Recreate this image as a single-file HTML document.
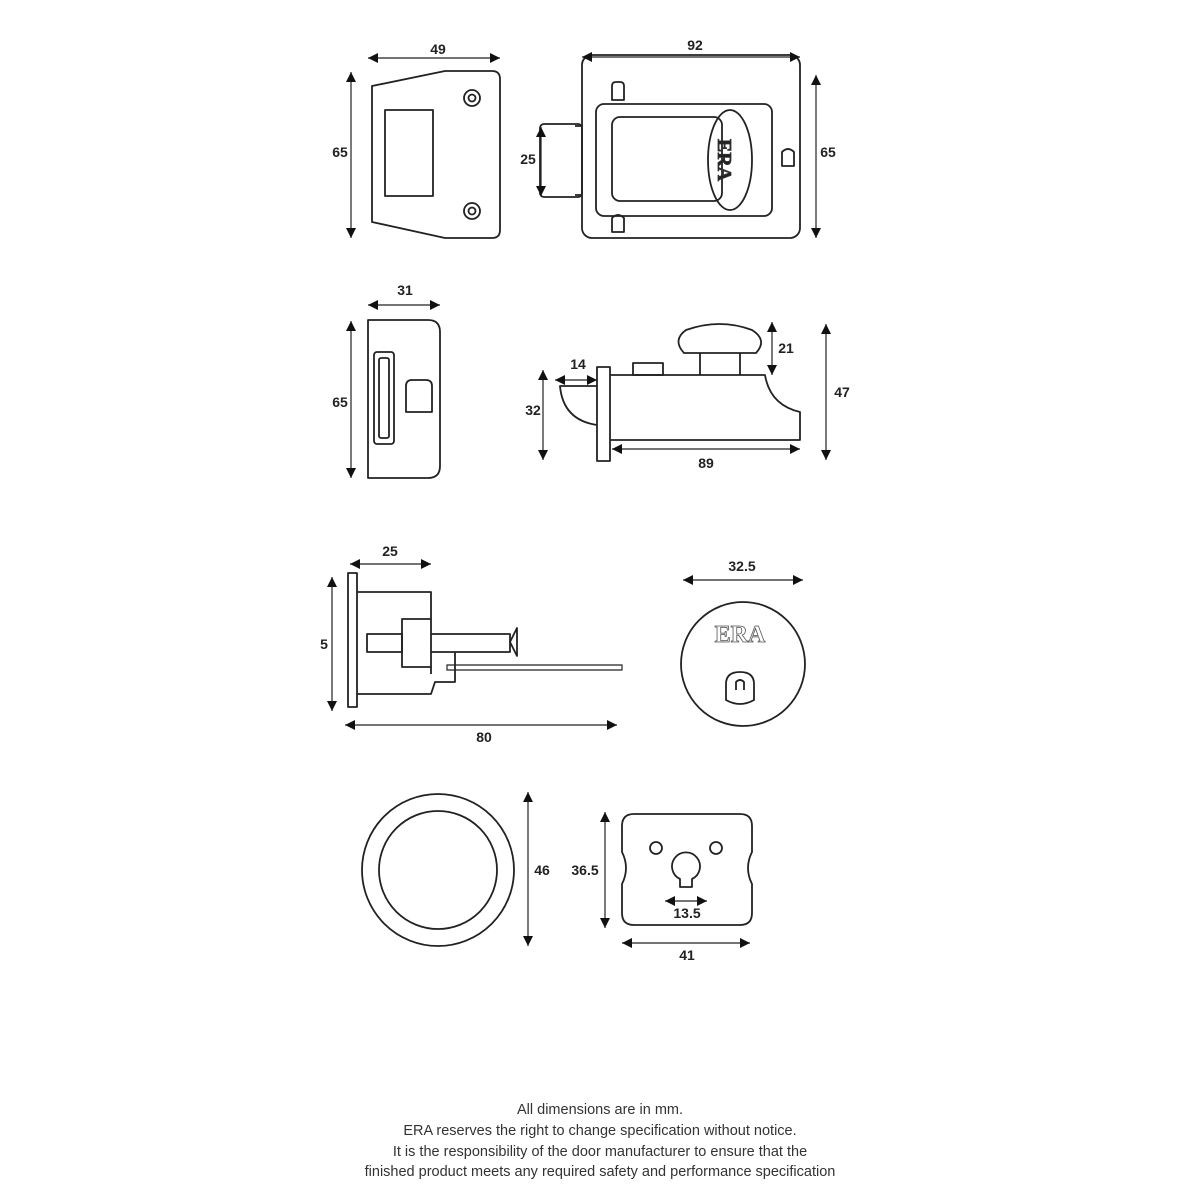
<!DOCTYPE html>
<html><head><meta charset="utf-8"><style>
html,body{margin:0;padding:0;background:#fff;}
svg{display:block}
text{font-family:"Liberation Sans",sans-serif;font-weight:bold;font-size:14px;fill:#222;text-anchor:middle}
.f{font-weight:normal;font-size:14.5px;fill:#333}
</style></head><body>
<svg width="1200" height="1200" viewBox="0 0 1200 1200" xmlns="http://www.w3.org/2000/svg">
<defs>
<marker id="a" viewBox="0 0 10 10" refX="10" refY="5" markerWidth="10" markerHeight="10" markerUnits="userSpaceOnUse" orient="auto-start-reverse"><path d="M0,0L10,5L0,10z" fill="#111"/></marker>
</defs>
<g fill="none" stroke="#222" stroke-width="1.8" stroke-linejoin="round">
<!-- staple front -->
<path d="M372,86 L445,71 L492,71 Q500,71 500,79 L500,230 Q500,238 492,238 L445,238 L372,222 Z"/>
<rect x="385" y="110" width="48" height="86"/>
<circle cx="472" cy="98" r="8"/><circle cx="472" cy="98" r="3.5"/>
<circle cx="472" cy="211" r="8"/><circle cx="472" cy="211" r="3.5"/>
<!-- lock case front -->
<rect x="582" y="55" width="218" height="183" rx="10"/>
<rect x="540" y="124" width="42" height="73" rx="4"/>
<path d="M582,126 L575,126 M582,195 L575,195"/>
<rect x="596" y="104" width="176" height="112" rx="8"/>
<rect x="612" y="117" width="110" height="84" rx="8"/>
<path d="M612,100 L612,86 Q612,82 616,82 L620,82 Q624,82 624,86 L624,100 Z"/>
<path d="M612,218 L612,232 L624,232 L624,218 Q618,212 612,218 Z"/>
<path d="M782,166 L782,152 Q788,146 794,152 L794,166 Z"/>
<ellipse cx="730" cy="160" rx="22" ry="50"/>
<!-- staple side -->
<path d="M368,320 L428,320 Q440,320 440,332 L440,466 Q440,478 428,478 L368,478 Z"/>
<rect x="374" y="352" width="20" height="92" rx="3"/>
<rect x="379" y="358" width="10" height="80" rx="2"/>
<path d="M406,412 L406,386 Q406,380 412,380 L426,380 Q432,380 432,386 L432,412 Z"/>
<!-- side profile -->
<rect x="597" y="367" width="13" height="94"/>
<path d="M610,375 L765,375 Q770,405 800,412 L800,440 L610,440"/>
<path d="M597,386 L560,386 Q563,420 597,425"/>
<rect x="633" y="363" width="30" height="12"/>
<path d="M700,375 L700,353 M740,375 L740,353"/>
<path d="M684,353 Q672,340 686,330 Q720,318 752,330 Q768,340 756,353 Z"/>
<!-- cylinder side -->
<rect x="348" y="573" width="9" height="134"/>
<path d="M357,592 L431,592 L431,619 M431,667 L431,674 M357,694 L431,694 L435,682 L455,682 L455,652"/>
<rect x="402" y="619" width="29" height="48"/>
<rect x="367" y="634" width="35" height="18"/>
<path d="M431,634 L510,634 L510,652 L431,652"/>
<path d="M510,642 L517,628 L517,656 Z"/>
<rect x="447" y="665" width="175" height="5" stroke-width="1.2"/>
<!-- cylinder front -->
<circle cx="743" cy="664" r="62"/>
<path d="M726,700 L726,684 Q726,672 740,672 Q754,672 754,684 L754,700 Q740,708 726,700 Z"/>
<path d="M736,690 L736,682 Q740,678 744,682 L744,690"/>
<!-- ring -->
<circle cx="438" cy="870" r="76"/>
<circle cx="438" cy="870" r="59"/>
<!-- escutcheon -->
<path d="M634,814 L740,814 Q752,814 752,826 L752,852 Q744,868 752,884 L752,913 Q752,925 740,925 L634,925 Q622,925 622,913 L622,884 Q630,868 622,852 L622,826 Q622,814 634,814 Z"/>
<circle cx="656" cy="848" r="6"/><circle cx="716" cy="848" r="6"/>
<path d="M680,879 A14,14 0 1 1 692,879 L692,887 L680,887 Z"/>
</g>
<text x="728" y="170" style="font-family:'Liberation Serif',serif;font-size:20px" fill="#fff" stroke="#333" stroke-width="0.8" transform="rotate(90 728 160)">ERA</text>
<text x="740" y="642" style="font-family:'Liberation Serif',serif;font-size:24px;fill:#fff;stroke:#555;stroke-width:0.8">ERA</text>
<g stroke="#222" stroke-width="1.2" marker-start="url(#a)" marker-end="url(#a)">
<line x1="368" y1="58" x2="500" y2="58"/>
<line x1="351" y1="72" x2="351" y2="238"/>
<line x1="582" y1="57" x2="800" y2="57"/>
<line x1="541" y1="127" x2="541" y2="196"/>
<line x1="816" y1="75" x2="816" y2="238"/>
<line x1="368" y1="305" x2="440" y2="305"/>
<line x1="351" y1="321" x2="351" y2="478"/>
<line x1="555" y1="380" x2="597" y2="380"/>
<line x1="543" y1="370" x2="543" y2="460"/>
<line x1="612" y1="449" x2="800" y2="449"/>
<line x1="772" y1="322" x2="772" y2="375"/>
<line x1="826" y1="324" x2="826" y2="460"/>
<line x1="350" y1="564" x2="431" y2="564"/>
<line x1="332" y1="577" x2="332" y2="711"/>
<line x1="345" y1="725" x2="617" y2="725"/>
<line x1="683" y1="580" x2="803" y2="580"/>
<line x1="528" y1="792" x2="528" y2="946"/>
<line x1="605" y1="812" x2="605" y2="928"/>
<line x1="665" y1="901" x2="707" y2="901"/>
<line x1="622" y1="943" x2="750" y2="943"/>
</g>
<text x="438" y="54">49</text>
<text x="340" y="157">65</text>
<text x="695" y="50">92</text>
<text x="528" y="164">25</text>
<text x="828" y="157">65</text>
<text x="405" y="295">31</text>
<text x="340" y="407">65</text>
<text x="578" y="369">14</text>
<text x="533" y="415">32</text>
<text x="706" y="468">89</text>
<text x="786" y="353">21</text>
<text x="842" y="397">47</text>
<text x="390" y="556">25</text>
<text x="324" y="649">5</text>
<text x="484" y="742">80</text>
<text x="742" y="571">32.5</text>
<text x="542" y="875">46</text>
<text x="585" y="875">36.5</text>
<text x="687" y="918">13.5</text>
<text x="687" y="960">41</text>
<text class="f" x="600" y="1114">All dimensions are in mm.</text>
<text class="f" x="600" y="1135">ERA reserves the right to change specification without notice.</text>
<text class="f" x="600" y="1156">It is the responsibility of the door manufacturer to ensure that the</text>
<text class="f" x="600" y="1176">finished product meets any required safety and performance specification</text>
</svg>
</body></html>
